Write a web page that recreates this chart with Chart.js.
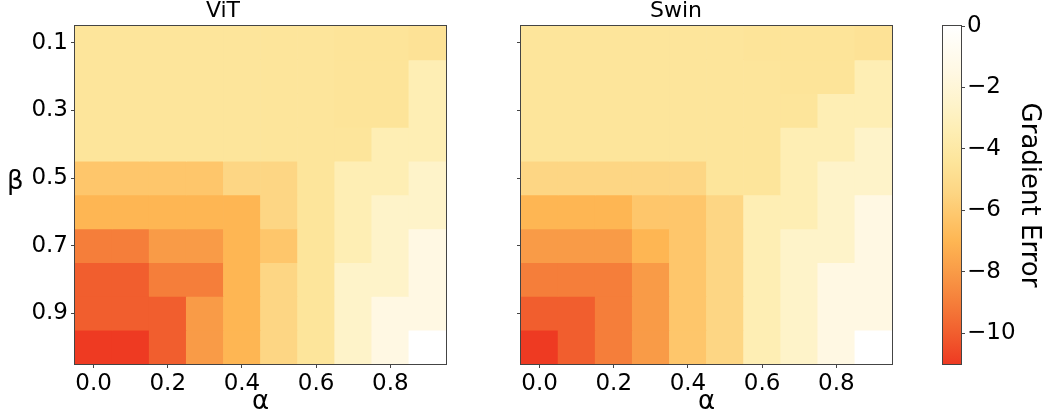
<!DOCTYPE html>
<html>
<head>
<meta charset="utf-8">
<script src="https://cdn.jsdelivr.net/npm/chart.js@4.4.0/dist/chart.umd.min.js"></script>
<style>
  html, body { margin: 0; padding: 0; background: #fff; }
  body { width: 1044px; height: 417px; position: relative; overflow: hidden; font-family: "DejaVu Sans", sans-serif; }
  .box { position: absolute; top: 0; height: 417px; }
  #vitBox { left: 0; width: 460px; }
  #swinBox { left: 460px; width: 440px; }
  #cbarBox { left: 900px; width: 144px; }
  #betaLabel { position: absolute; left: 7px; top: 167px; font-size: 26px; line-height: 1; color: #000; }
</style>
</head>
<body>
<div class="box" id="vitBox"><canvas id="vitChart" width="460" height="417"></canvas></div>
<div class="box" id="swinBox"><canvas id="swinChart" width="440" height="417"></canvas></div>
<div class="box" id="cbarBox"><canvas id="cbarChart" width="144" height="417"></canvas></div>
<div id="betaLabel">β</div>
<script>
// data
const alphas = [0.0, 0.1, 0.2, 0.3, 0.4, 0.5, 0.6, 0.7, 0.8, 0.9];
const betas = [0.1, 0.2, 0.3, 0.4, 0.5, 0.6, 0.7, 0.8, 0.9, 1.0];
const alphaTicks = [0.0, 0.2, 0.4, 0.6, 0.8];
const betaTicks = [0.1, 0.3, 0.5, 0.7, 0.9];
const errorTicks = [0, -2, -4, -6, -8, -10];
const errorMin = -11;
const errorMax = 0;

// rows = beta (0.1 .. 1.0), cols = alpha (0.0 .. 0.9)
const vitError = [
    [-4.4, -4.4, -4.4, -4.4, -4.4, -4.4, -4.4, -4.5, -4.5, -4.6],
    [-4.4, -4.4, -4.4, -4.4, -4.4, -4.4, -4.4, -4.5, -4.5, -3.4],
    [-4.4, -4.4, -4.4, -4.4, -4.4, -4.4, -4.4, -4.5, -4.5, -3.4],
    [-4.4, -4.4, -4.4, -4.4, -4.4, -4.4, -4.4, -4.4, -3.4, -3.4],
    [-6.2, -6.2, -6.2, -6.2, -5.4, -5.4, -4.4, -3.4, -3.4, -2.6],
    [-7.0, -7.0, -7.0, -7.0, -7.0, -5.4, -4.4, -3.4, -2.6, -2.6],
    [-9.0, -9.0, -8.0, -8.0, -7.0, -6.2, -4.4, -3.4, -2.6, -1.5],
    [-10.0, -10.0, -9.0, -9.0, -7.0, -5.4, -4.4, -2.6, -2.6, -1.5],
    [-10.0, -10.0, -10.0, -8.0, -7.0, -5.4, -4.4, -2.6, -1.5, -1.5],
    [-11.0, -11.0, -10.0, -8.0, -7.0, -5.4, -4.4, -2.6, -1.5, 0.0]
];
const swinError = [
    [-4.4, -4.4, -4.4, -4.4, -4.4, -4.4, -4.5, -4.5, -4.5, -4.6],
    [-4.4, -4.4, -4.4, -4.4, -4.4, -4.4, -4.4, -4.5, -4.5, -3.4],
    [-4.4, -4.4, -4.4, -4.4, -4.4, -4.4, -4.4, -4.4, -3.4, -3.4],
    [-4.4, -4.4, -4.4, -4.4, -4.4, -4.4, -4.4, -3.4, -3.4, -2.6],
    [-5.4, -5.4, -5.4, -5.4, -5.4, -4.4, -4.4, -3.4, -2.6, -2.6],
    [-7.0, -7.0, -7.0, -6.2, -6.2, -5.4, -3.4, -3.4, -2.6, -1.5],
    [-8.0, -8.0, -8.0, -7.0, -6.2, -5.4, -3.4, -2.6, -2.6, -1.5],
    [-9.0, -9.0, -9.0, -8.0, -6.2, -5.4, -3.4, -2.6, -1.5, -1.5],
    [-10.0, -10.0, -9.0, -8.0, -6.2, -5.4, -3.4, -2.6, -1.5, -1.5],
    [-11.0, -10.0, -9.0, -8.0, -6.2, -5.4, -3.4, -2.6, -1.5, 0.0]
];

// colormap (value -> rgb), light at 0, red at -11
const cmapStops = [
    [0, [255, 255, 255]],
    [-1.5, [255, 248, 227]],
    [-2.6, [254, 243, 201]],
    [-3.4, [254, 238, 180]],
    [-4.4, [253, 229, 155]],
    [-5.4, [253, 214, 132]],
    [-6.2, [254, 198, 107]],
    [-7, [254, 182, 83]],
    [-8, [249, 155, 71]],
    [-9, [245, 126, 58]],
    [-10, [241, 94, 46]],
    [-11, [238, 58, 34]]
];

function errorColor(v) {
    for (let i = 1; i < cmapStops.length; i++) {
        const [v0, c0] = cmapStops[i - 1];
        const [v1, c1] = cmapStops[i];
        if (v <= v0 && v >= v1) {
            const t = (v0 - v) / (v0 - v1);
            const c = c0.map((x, k) => Math.round(x + (c1[k] - x) * t));
            return `rgb(${c[0]}, ${c[1]}, ${c[2]})`;
        }
    }
    const last = cmapStops[v > 0 ? 0 : cmapStops.length - 1][1];
    return `rgb(${last[0]}, ${last[1]}, ${last[2]})`;
}

const FONT = 'DejaVu Sans';
const AXIS = '#444';

// outline of the axes box, like matplotlib spines
const frame = {
    id: 'frame',
    afterDraw(chart) {
        const { ctx, chartArea: a } = chart;
        ctx.save();
        ctx.strokeStyle = AXIS;
        ctx.lineWidth = 1;
        ctx.strokeRect(Math.round(a.left) - 0.5, Math.round(a.top) - 0.5,
            Math.round(a.right - a.left) + 1, Math.round(a.bottom - a.top) + 1);
        ctx.restore();
    }
};

function makeHeatmap(canvasId, title, values, showYLabels, leftWidth, rightPad) {
    const half = (betas[1] - betas[0]) / 2;
    const config = {
        type: 'bar',
        data: {
            labels: alphas.map(a => a.toFixed(1)),
            datasets: betas.map((b, r) => ({
                label: 'β = ' + b.toFixed(1),
                data: values[r].map(() => [b - half, b + half]),
                backgroundColor: values[r].map(errorColor),
                borderWidth: 0,
                barPercentage: 1,
                categoryPercentage: 1,
                grouped: false
            }))
        },
        options: {
            responsive: false,
            animation: false,
            devicePixelRatio: 1,
            layout: { padding: { left: 0, right: rightPad, top: 0, bottom: 0 } },
            plugins: {
                legend: { display: false },
                tooltip: { enabled: false },
                title: {
                    display: true,
                    text: title,
                    color: '#000',
                    font: { family: FONT, size: 22, weight: 'normal', lineHeight: 1 },
                    padding: { top: 0, bottom: 4 }
                }
            },
            scales: {
                x: {
                    offset: true,
                    grid: { display: true, offset: false, drawOnChartArea: false, tickLength: 4, color: AXIS },
                    border: { display: false },
                    afterBuildTicks: s => {
                        s.ticks = s.ticks.filter(t => alphaTicks.some(a => Math.abs(a - alphas[t.value]) < 1e-9));
                    },
                    ticks: {
                        color: '#000',
                        font: { family: FONT, size: 23 },
                        padding: 2,
                        maxRotation: 0,
                        autoSkip: false
                    },
                    title: {
                        display: true,
                        text: 'α',
                        color: '#000',
                        font: { family: FONT, size: 26, lineHeight: 1.1 },
                        padding: 0
                    },
                    afterFit: s => { s.height = 53; }
                },
                y: {
                    type: 'linear',
                    min: betas[0] - half,
                    max: betas[betas.length - 1] + half,
                    reverse: true,
                    afterBuildTicks: s => { s.ticks = betaTicks.map(v => ({ value: v })); },
                    grid: { display: true, drawOnChartArea: false, tickLength: 4, color: AXIS },
                    border: { display: false },
                    ticks: {
                        display: showYLabels,
                        color: '#000',
                        font: { family: FONT, size: 23 },
                        padding: 3,
                        callback: v => v.toFixed(1)
                    },
                    afterFit: s => { s.width = leftWidth; }
                }
            }
        },
        plugins: [frame]
    };
    return new Chart(document.getElementById(canvasId), config);
}

function makeColorbar() {
    const config = {
        type: 'bar',
        data: {
            labels: [''],
            datasets: [{
                label: 'Gradient Error',
                data: [[errorMin, errorMax]],
                backgroundColor: c => {
                    const chart = c.chart;
                    if (!chart.chartArea) return null;
                    const y = chart.scales.y;
                    const g = chart.ctx.createLinearGradient(0, y.getPixelForValue(errorMax), 0, y.getPixelForValue(errorMin));
                    cmapStops.forEach(([v, rgb]) => {
                        g.addColorStop((errorMax - v) / (errorMax - errorMin), `rgb(${rgb[0]}, ${rgb[1]}, ${rgb[2]})`);
                    });
                    return g;
                },
                borderWidth: 0,
                barPercentage: 1,
                categoryPercentage: 1
            }]
        },
        options: {
            responsive: false,
            animation: false,
            devicePixelRatio: 1,
            layout: { padding: { left: 43, right: 0, top: 26, bottom: 53 } },
            plugins: {
                legend: { display: false },
                tooltip: { enabled: false },
                title: { display: false }
            },
            scales: {
                x: { display: false },
                y: {
                    position: 'right',
                    min: errorMin,
                    max: errorMax,
                    afterBuildTicks: s => { s.ticks = errorTicks.map(v => ({ value: v })); },
                    grid: { display: true, drawOnChartArea: false, tickLength: 4, color: AXIS },
                    border: { display: false },
                    ticks: {
                        color: '#000',
                        font: { family: FONT, size: 23 },
                        padding: 2,
                        callback: v => (v < 0 ? '\u2212' + (-v) : String(v))
                    },
                    title: {
                        display: true,
                        text: 'Gradient Error',
                        color: '#000',
                        font: { family: FONT, size: 26, lineHeight: 1.2 },
                        padding: 0
                    },
                    afterFit: s => { s.width = 83; }
                }
            }
        },
        plugins: [frame]
    };
    return new Chart(document.getElementById('cbarChart'), config);
}

makeHeatmap('vitChart', 'ViT', vitError, true, 75, 14);
makeHeatmap('swinChart', 'Swin', swinError, false, 61, 8);
makeColorbar();
</script>
</body>
</html>
